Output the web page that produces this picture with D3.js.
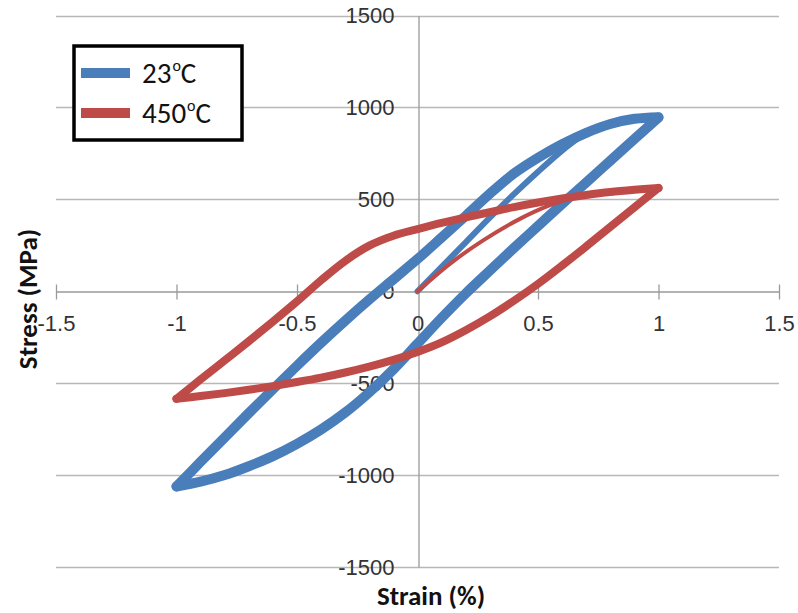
<!DOCTYPE html>
<html>
<head>
<meta charset="utf-8">
<script src="https://cdn.jsdelivr.net/npm/d3@7"></script>
<style>
  html, body { margin: 0; padding: 0; background: #fff; }
  svg { display: block; font-family: Carlito, Calibri, Lato, "Open Sans", sans-serif; }
</style>
</head>
<body>
<svg id="chart" width="798" height="613"></svg>
<script>
// Axis ticks
const strainTicks = [-1.5, -1, -0.5, 0, 0.5, 1, 1.5];
const stressTicks = [-1500, -1000, -500, 0, 500, 1000, 1500];

// Legend entries
const seriesNames = ["23", "450"];
const seriesColors = ["#4a7ebb", "#be4b48"];

// 23 °C hysteresis: [strain %, stress MPa]
const rtInitial = [[0, 0], [0.1, 133], [0.2, 266], [0.3, 400], [0.4, 528], [0.5, 650], [0.6, 765], [0.68, 845]];
const rtUnload = [[1.0, 945], [0.9, 828], [0.8, 710], [0.7, 592], [0.6, 475], [0.5, 355], [0.4, 235], [0.3, 112], [0.2, -12], [0.1, -145], [0, -285], [-0.1, -425], [-0.2, -550], [-0.3, -660], [-0.4, -752], [-0.5, -830], [-0.6, -897], [-0.7, -952], [-0.8, -1000], [-0.9, -1036], [-1.0, -1062]];
const rtReload = [[-1.0, -1062], [-0.9, -928], [-0.8, -795], [-0.7, -663], [-0.6, -533], [-0.5, -405], [-0.4, -280], [-0.3, -160], [-0.2, -45], [-0.1, 65], [0, 175], [0.1, 292], [0.2, 410], [0.3, 530], [0.4, 640], [0.5, 726], [0.6, 800], [0.7, 862], [0.8, 910], [0.9, 938], [1.0, 947]];

// 450 °C hysteresis
const htInitial = [[0, 0], [0.137, 152], [0.274, 278], [0.415, 387], [0.55, 468], [0.66, 512]];
const htUnload = [[1.0, 562], [0.9, 456], [0.8, 350], [0.7, 244], [0.6, 140], [0.5, 40], [0.4, -52], [0.3, -137], [0.2, -212], [0.1, -278], [0, -330], [-0.1, -373], [-0.2, -410], [-0.3, -442], [-0.4, -470], [-0.5, -494], [-0.6, -516], [-0.7, -536], [-0.8, -554], [-0.9, -570], [-1.0, -585]];
const htReload = [[-1.0, -585], [-0.9, -480], [-0.8, -376], [-0.7, -272], [-0.6, -165], [-0.5, -55], [-0.4, 60], [-0.3, 165], [-0.2, 248], [-0.1, 302], [0, 338], [0.1, 372], [0.2, 402], [0.3, 430], [0.4, 458], [0.5, 483], [0.6, 505], [0.7, 524], [0.8, 540], [0.9, 552], [1.0, 562]];

const svg = d3.select("#chart");

const x = d3.scaleLinear().domain([-1.5, 1.5]).range([56, 779]);
const y = d3.scaleLinear().domain([-1500, 1500]).range([567, 15.5]);

const gridColor = "#b8b8b8";
const axisColor = "#9a9a9a";
const textColor = "#333333";
const plainNumber = d => String(d);

// Horizontal gridlines
svg.append("g")
  .selectAll("line")
  .data(stressTicks.filter(d => d !== 0))
  .join("line")
  .attr("x1", x(-1.5)).attr("x2", x(1.5))
  .attr("y1", d => Math.round(y(d)) + 0.5).attr("y2", d => Math.round(y(d)) + 0.5)
  .attr("stroke", gridColor).attr("stroke-width", 1.3);

// Vertical axis through strain = 0
const yAxis = d3.axisLeft(y).tickValues(stressTicks).tickSize(0).tickPadding(24).tickFormat(plainNumber);
const gy = svg.append("g").attr("transform", `translate(${Math.round(x(0)) + 0.5},0)`).call(yAxis);
gy.select(".domain").attr("stroke", axisColor).attr("stroke-width", 1.3);
gy.selectAll(".tick text").attr("fill", textColor).style("font-size", "22px").style("font-family", "inherit");

// Horizontal axis through stress = 0, with crossing tick marks
const xAxis = d3.axisBottom(x).tickValues(strainTicks).tickSize(0).tickPadding(24).tickFormat(plainNumber);
const gx = svg.append("g").attr("transform", `translate(0,${Math.round(y(0)) + 0.5})`).call(xAxis);
gx.select(".domain").attr("stroke", axisColor).attr("stroke-width", 1.3);
gx.selectAll(".tick line").remove();
gx.selectAll(".tick").filter(d => d !== 0)
  .append("line").attr("y1", -7).attr("y2", 8)
  .attr("stroke", axisColor).attr("stroke-width", 1.3);
gx.selectAll(".tick text").attr("fill", textColor).style("font-size", "22px").style("font-family", "inherit");

// Axis titles
svg.append("text")
  .attr("x", 431).attr("y", 605)
  .attr("text-anchor", "middle")
  .attr("font-weight", "bold").attr("font-size", 27).attr("fill", "#111")
  .text("Strain (%)");
svg.append("text")
  .attr("transform", "translate(37,299) rotate(-90)")
  .attr("text-anchor", "middle")
  .attr("font-weight", "bold").attr("font-size", 27).attr("fill", "#111")
  .text("Stress (MPa)");

// Hysteresis curves
const line = d3.line()
  .x(d => x(d[0]))
  .y(d => y(d[1]))
  .curve(d3.curveCatmullRom.alpha(0.5));

const curves = [
  { data: rtInitial, color: seriesColors[0], width: 6 },
  { data: rtUnload, color: seriesColors[0], width: 10 },
  { data: rtReload, color: seriesColors[0], width: 10 },
  { data: htInitial, color: seriesColors[1], width: 4 },
  { data: htUnload, color: seriesColors[1], width: 8 },
  { data: htReload, color: seriesColors[1], width: 8 }
];

svg.append("g")
  .selectAll("path")
  .data(curves)
  .join("path")
  .attr("d", d => line(d.data))
  .attr("fill", "none")
  .attr("stroke", d => d.color)
  .attr("stroke-width", d => d.width)
  .attr("stroke-linejoin", "round")
  .attr("stroke-linecap", "round");

// Legend
const legend = svg.append("g");
legend.append("rect")
  .attr("x", 74).attr("y", 46).attr("width", 168).attr("height", 94)
  .attr("fill", "#fff").attr("stroke", "#000").attr("stroke-width", 3.5);

const rows = legend.selectAll("g.row")
  .data(seriesNames)
  .join("g").attr("class", "row")
  .attr("transform", (d, i) => `translate(0,${73 + i * 40})`);
rows.append("line")
  .attr("x1", 81).attr("x2", 130)
  .attr("stroke", (d, i) => seriesColors[i]).attr("stroke-width", 10);
const labels = rows.append("text")
  .attr("x", 142).attr("y", 10)
  .attr("font-size", 29).attr("fill", "#111");
labels.append("tspan").text(d => d);
labels.append("tspan").attr("font-size", 16).attr("dy", -12).attr("dx", 1).text("o");
labels.append("tspan").attr("dy", 12).text("C");
</script>
</body>
</html>
